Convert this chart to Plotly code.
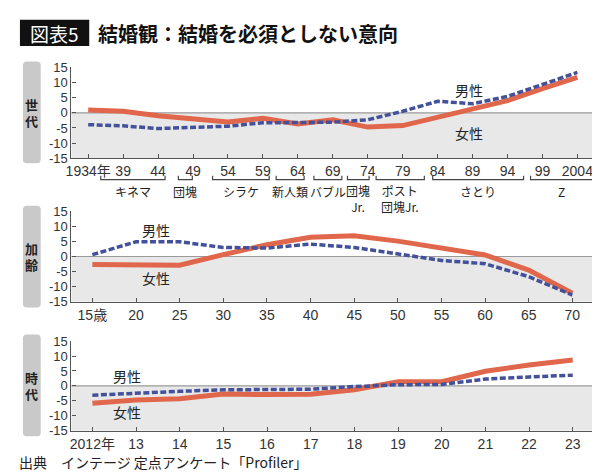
import plotly.graph_objects as go

W, H = 600, 476
FONT = "Noto Sans CJK JP"
NUM_FONT = "Liberation Sans, Noto Sans CJK JP"
RED = "#e0674c"
BLUE = "#43509a"

# --- panel 1: 世代 (generation, birth year)
gen_years = [1934, 1939, 1944, 1949, 1954, 1959, 1964, 1969, 1974, 1979, 1984, 1989, 1994, 1999, 2004]
gen_ticks = ["1934年", "39", "44", "49", "54", "59", "64", "69", "74", "79", "84", "89", "94", "99", "2004"]
gen_female = [0.9, 0.5, -1.0, -2.0, -3.0, -1.8, -3.7, -2.3, -4.7, -4.2, -1.5, 1.2, 4.0, 8.0, 11.7]
gen_male = [-3.9, -4.3, -5.2, -4.7, -4.4, -3.3, -3.1, -3.1, -2.3, 0.5, 3.8, 3.0, 5.4, 9.3, 13.3]

# generation groups under the axis
group_names = ["キネマ", "団塊", "シラケ", "新人類", "バブル", "団塊<br>Jr.", "ポスト<br>団塊Jr.", "さとり", "Z"]
group_start = [1935.8, 1946.9, 1951.8, 1960.9, 1966.3, 1971.1, 1975.2, 1983.3, 1997.3]
group_end = [1945.0, 1948.9, 1959.9, 1964.9, 1970.3, 1974.2, 1982.1, 1996.3, 2006.3]

# --- panel 2: 加齢 (age)
ages = [15, 20, 25, 30, 35, 40, 45, 50, 55, 60, 65, 70]
age_ticks = ["15歳", "20", "25", "30", "35", "40", "45", "50", "55", "60", "65", "70"]
age_female = [-2.7, -2.9, -2.9, 0.6, 3.9, 6.4, 6.9, 5.1, 2.7, 0.5, -4.5, -12.2]
age_male = [0.6, 4.9, 4.9, 3.0, 2.8, 4.1, 3.0, 0.9, -1.3, -2.4, -6.7, -12.8]

# --- panel 3: 時代 (survey year)
years = [2012, 2013, 2014, 2015, 2016, 2017, 2018, 2019, 2020, 2021, 2022, 2023]
year_ticks = ["2012年", "13", "14", "15", "16", "17", "18", "19", "20", "21", "22", "23"]
year_female = [-5.8, -4.7, -4.3, -2.7, -2.9, -2.8, -1.3, 1.4, 1.4, 4.9, 7.0, 8.7]
year_male = [-3.1, -2.4, -1.8, -1.3, -1.3, -1.1, -0.2, 0.4, 0.5, 2.3, 3.0, 3.6]

y_vals = [-15, -10, -5, 0, 5, 10, 15]
y_text = ["-15", "-10", "-5", "0", "5", "10", "15"]


def py(px):
    # pixel row -> paper y
    return 1 - px / H


def px_x(px):
    return px / W


panels = [
    dict(x=gen_years, t=gen_ticks, f=gen_female, m=gen_male, rng=[1931.6, 2006.4],
         top=54, bot=148, side="世代", box=(48, 153),
         male_lbl=(1988.5, 77), female_lbl=(1988.5, 122)),
    dict(x=ages, t=age_ticks, f=age_female, m=age_male, rng=[12.6, 72.5],
         top=202.7, bot=296, side="加齢", box=(197, 302),
         male_lbl=(22.3, 222), female_lbl=(22.3, 272)),
    dict(x=years, t=year_ticks, f=year_female, m=year_male, rng=[2011.52, 2023.49],
         top=336.7, bot=429.3, side="時代", box=(330, 435),
         male_lbl=(2012.8, 373), female_lbl=(2012.8, 410)),
]

fig = go.Figure()
shapes = []
annotations = []
x_dom = [px_x(58), px_x(586)]

for i, p in enumerate(panels, start=1):
    xa = "x" if i == 1 else f"x{i}"
    ya = "y" if i == 1 else f"y{i}"
    fig.add_trace(go.Scatter(x=p["x"], y=p["f"], mode="lines", xaxis=xa, yaxis=ya,
                             line=dict(color=RED, width=5), hoverinfo="skip"))
    fig.add_trace(go.Scatter(x=p["x"], y=p["m"], mode="lines", xaxis=xa, yaxis=ya,
                             line=dict(color=BLUE, width=3.5, dash="6px,2.5px"), hoverinfo="skip"))

    axis_common = dict(showgrid=False, zeroline=False, showline=True, linecolor="#555",
                       linewidth=1.2, ticks="inside", ticklen=4, tickcolor="#555")
    fig.update_layout(**{
        ("xaxis" if i == 1 else f"xaxis{i}"): dict(
            axis_common, domain=x_dom, range=p["rng"], anchor=ya,
            tickfont=dict(family=NUM_FONT, size=14, color="#333"),
            tickmode="array", tickvals=p["x"], ticktext=p["t"]),
        ("yaxis" if i == 1 else f"yaxis{i}"): dict(
            axis_common, domain=[py(p["bot"]), py(p["top"])], range=[-15, 15], anchor=xa,
            tickfont=dict(family=NUM_FONT, size=13, color="#333"),
            tickmode="array", tickvals=y_vals, ticktext=y_text),
    })

    # gray area below zero and the zero line
    shapes.append(dict(type="rect", xref=f"{xa} domain", yref=ya, x0=0, x1=1, y0=-15, y1=0,
                       fillcolor="#e8e8e8", line=dict(width=0), layer="below"))
    shapes.append(dict(type="line", xref=f"{xa} domain", yref=ya, x0=0, x1=1, y0=0, y1=0,
                       line=dict(color="#9a9a9a", width=1.2), layer="below"))

    # side label box (rounded)
    b0, b1 = p["box"]
    x0, x1 = px_x(9), px_x(27)
    ya0, ya1 = py(b1), py(b0)
    rx, ry = 4 / W, 4 / H
    path = (f"M{x0 + rx},{ya0} L{x1 - rx},{ya0} Q{x1},{ya0} {x1},{ya0 + ry} "
            f"L{x1},{ya1 - ry} Q{x1},{ya1} {x1 - rx},{ya1} L{x0 + rx},{ya1} "
            f"Q{x0},{ya1} {x0},{ya1 - ry} L{x0},{ya0 + ry} Q{x0},{ya0} {x0 + rx},{ya0} Z")
    shapes.append(dict(type="path", xref="paper", yref="paper", path=path,
                       fillcolor="#c9c9c9", line=dict(width=0)))
    mid = (b0 + b1) / 2
    for k, ch in enumerate(p["side"]):
        annotations.append(dict(text=ch, xref="paper", yref="paper",
                                x=px_x(18), y=py(mid - 8.5 + 17 * k), showarrow=False,
                                borderpad=0, font=dict(family=FONT, size=13, color="#222",
                                                       weight="bold"),
                                xanchor="center", yanchor="middle"))

    # 男性 / 女性 labels
    for txt, (lx, ly) in (("男性", p["male_lbl"]), ("女性", p["female_lbl"])):
        annotations.append(dict(text=txt, xref=xa, yref="paper", x=lx, y=py(ly),
                                showarrow=False, font=dict(family=FONT, size=14, color="#222"),
                                xanchor="center", yanchor="middle"))

# generation brackets
for name, s, e in zip(group_names, group_start, group_end):
    shapes.append(dict(type="path", xref="x", yref="paper",
                       path=f"M{s},{py(166)} L{s},{py(170)} L{e},{py(170)} L{e},{py(166)}",
                       line=dict(color="#444", width=1.2)))
    two_lines = "<br>" in name
    annotations.append(dict(text=name, xref="x", yref="paper", x=(s + e) / 2,
                            y=py(189 if two_lines else 182),
                            showarrow=False, xanchor="center", yanchor="middle",
                            font=dict(family=FONT, size=12, color="#222")))

# title
shapes.append(dict(type="rect", xref="paper", yref="paper", x0=px_x(6), x1=px_x(76),
                   y0=py(32), y1=py(5), fillcolor="#111", line=dict(width=0)))
annotations.append(dict(text="図表5", xref="paper", yref="paper", x=px_x(41), y=py(19),
                        xanchor="center", yanchor="middle", showarrow=False,
                        font=dict(family=FONT, size=19, color="white")))
annotations.append(dict(text="<b>結婚観：結婚を必須としない意向</b>", xref="paper", yref="paper",
                        x=px_x(83), y=py(19), xanchor="left", yanchor="middle",
                        showarrow=False, font=dict(family=FONT, size=20, color="#111")))
# source
annotations.append(dict(text="出典　インテージ 定点アンケート「Profiler」", xref="paper", yref="paper",
                        x=px_x(3), y=py(462), xanchor="left", yanchor="middle",
                        showarrow=False, font=dict(family=FONT, size=14, color="#222")))

fig.update_layout(width=W, height=H, margin=dict(l=0, r=0, t=0, b=0),
                  paper_bgcolor="white", plot_bgcolor="rgba(0,0,0,0)",
                  showlegend=False, shapes=shapes, annotations=annotations,
                  font=dict(family=FONT))

fig.write_html("out.html")
